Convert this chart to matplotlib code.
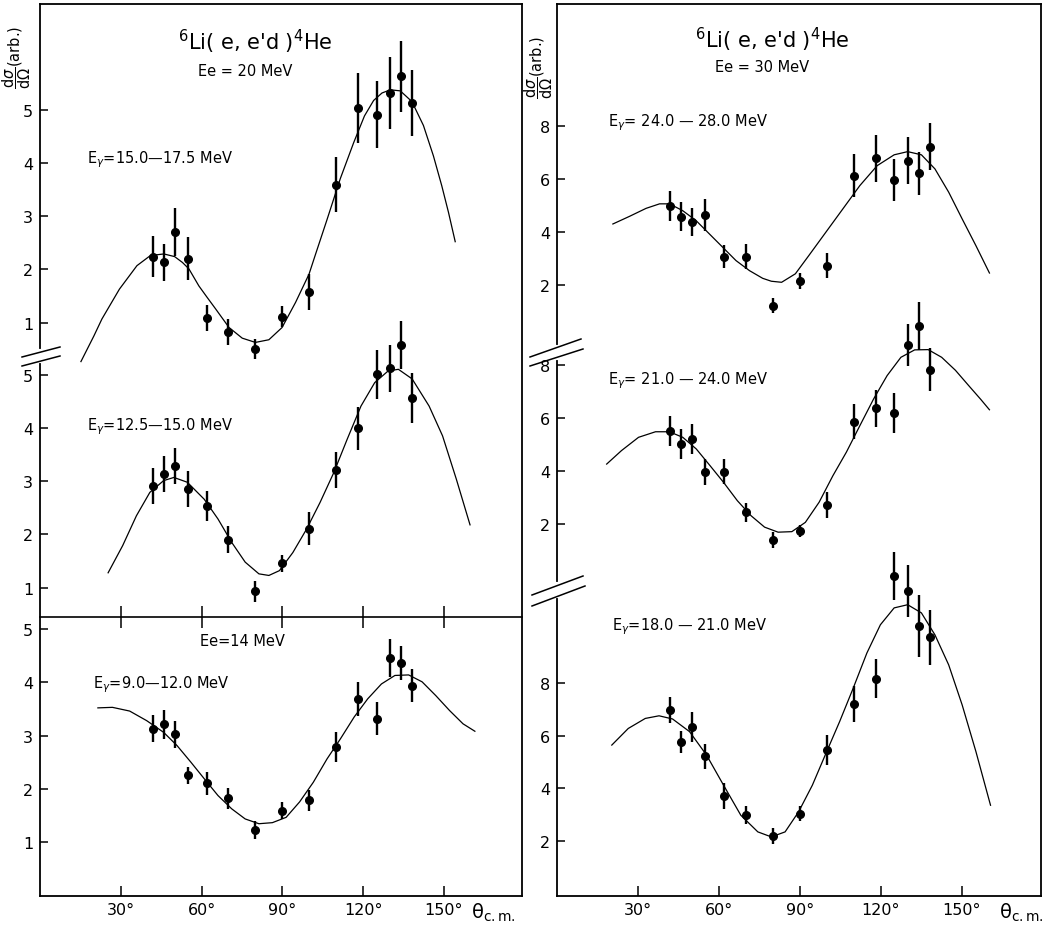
import matplotlib.pyplot as plt
from matplotlib.lines import Line2D

# scattering angles (deg, c.m.) shared by all data sets
angles = [42, 46, 50, 55, 62, 70, 80, 90, 100, 110, 118, 125, 130, 134, 138]

# Ee = 20 MeV, Eg = 15.0-17.5 MeV
y_15 = [2.24, 2.13, 2.70, 2.20, 1.09, 0.83, 0.51, 1.11, 1.58, 3.59, 5.03, 4.90, 5.31, 5.62, 5.13]
e_15 = [0.39, 0.34, 0.45, 0.40, 0.25, 0.24, 0.19, 0.20, 0.34, 0.52, 0.66, 0.63, 0.68, 0.66, 0.62]
fit_15_deg = [15.2, 20, 23, 29.5, 36, 41, 46, 50, 52.9, 55.3, 59, 62, 65.2, 70.2, 75.1, 80, 85,
              89.9, 94.9, 99.9, 102.3, 106.5, 111.5, 116.5, 120.5, 123.9, 127, 130.1, 133.8,
              138.1, 142.4, 146.1, 149.2, 151.7, 154.2]
fit_15_val = [0.27, 0.75, 1.07, 1.63, 2.07, 2.26, 2.29, 2.24, 2.13, 2.01, 1.69, 1.48, 1.26, 0.91,
              0.71, 0.63, 0.68, 0.91, 1.38, 1.91, 2.28, 2.92, 3.70, 4.38, 4.88, 5.17, 5.31, 5.37,
              5.35, 5.15, 4.70, 4.13, 3.57, 3.07, 2.52]

# Ee = 20 MeV, Eg = 12.5-15.0 MeV
y_12 = [2.91, 3.13, 3.28, 2.86, 2.53, 1.90, 0.93, 1.46, 2.11, 3.21, 3.99, 5.01, 5.12, 5.56, 4.56]
e_12 = [0.33, 0.34, 0.34, 0.34, 0.28, 0.25, 0.19, 0.16, 0.31, 0.33, 0.41, 0.46, 0.44, 0.45, 0.47]
fit_12_deg = [25.3, 30.7, 35.8, 40.8, 45.9, 49.7, 54.7, 61, 66.1, 71.2, 76.2, 81.3, 85, 88.9,
              93.9, 99, 104, 109.1, 114.1, 119.2, 124.3, 129.3, 133.1, 138.2, 144.5, 149.5,
              154.6, 159.7]
fit_12_val = [1.28, 1.79, 2.35, 2.79, 3.01, 3.07, 2.98, 2.66, 2.29, 1.85, 1.48, 1.26, 1.23, 1.32,
              1.66, 2.10, 2.60, 3.16, 3.79, 4.41, 4.85, 5.07, 5.10, 4.92, 4.41, 3.85, 3.04, 2.18]

# Ee = 14 MeV, Eg = 9.0-12.0 MeV
y_9 = [3.13, 3.21, 3.02, 2.25, 2.10, 1.82, 1.22, 1.58, 1.78, 2.79, 3.68, 3.32, 4.46, 4.36, 3.94]
e_9 = [0.26, 0.27, 0.26, 0.16, 0.22, 0.20, 0.17, 0.16, 0.20, 0.28, 0.32, 0.31, 0.35, 0.32, 0.31]
fit_9_deg = [21.5, 26.9, 33.3, 39.6, 45.9, 50.9, 56, 61.1, 66.1, 71.2, 76.2, 81.3, 86.3, 91.4,
             96.4, 101.5, 106.6, 111.6, 116.7, 121.7, 126.8, 131.8, 136.9, 141.9, 147, 152.1,
             157.1, 161.5]
fit_9_val = [3.52, 3.53, 3.46, 3.28, 3.06, 2.81, 2.50, 2.18, 1.87, 1.62, 1.43, 1.34, 1.36, 1.46,
             1.75, 2.12, 2.56, 2.94, 3.35, 3.69, 3.97, 4.13, 4.14, 4.01, 3.75, 3.47, 3.22, 3.08]

# Ee = 30 MeV, Eg = 24.0-28.0 MeV
y_24 = [4.99, 4.58, 4.37, 4.64, 3.07, 3.07, 1.22, 2.16, 2.73, 6.12, 6.78, 5.96, 6.69, 6.21, 7.22]
e_24 = [0.57, 0.55, 0.53, 0.62, 0.42, 0.46, 0.28, 0.30, 0.47, 0.82, 0.88, 0.79, 0.88, 0.82, 0.90]
fit_24_deg = [20.7, 26.9, 33, 38, 41.7, 46.6, 51.5, 56.5, 61.4, 66.3, 71.3, 76.2, 79.4, 83.2,
              88.3, 93.3, 99.6, 105.9, 112.2, 118.6, 124.9, 129.9, 135, 140, 145.1, 150.1, 155.2,
              160.2]
fit_24_val = [4.30, 4.59, 4.89, 5.06, 5.06, 4.80, 4.43, 3.92, 3.42, 2.92, 2.54, 2.25, 2.14, 2.10,
              2.42, 3.11, 3.99, 4.87, 5.75, 6.50, 6.91, 7.03, 6.91, 6.38, 5.50, 4.49, 3.48, 2.45]

# Ee = 30 MeV, Eg = 21.0-24.0 MeV
y_21 = [5.52, 5.02, 5.21, 3.97, 3.97, 2.44, 1.41, 1.72, 2.72, 5.86, 6.36, 6.19, 8.77, 9.48, 7.82]
e_21 = [0.57, 0.58, 0.56, 0.49, 0.47, 0.36, 0.30, 0.23, 0.49, 0.66, 0.69, 0.74, 0.79, 0.90, 0.82]
fit_21_deg = [18.4, 23.9, 30.2, 36.5, 41.6, 46.6, 51.6, 56.7, 61.7, 66.8, 71.9, 76.9, 81.9, 87,
              92, 97.1, 102.2, 107.2, 112.2, 117.3, 122.3, 127.4, 132.5, 137.5, 142.5, 147.6,
              152.7, 157, 160.2]
fit_21_val = [4.26, 4.77, 5.27, 5.48, 5.48, 5.27, 4.83, 4.20, 3.57, 2.88, 2.31, 1.88, 1.69, 1.71,
              2.06, 2.82, 3.82, 4.71, 5.71, 6.72, 7.60, 8.29, 8.57, 8.58, 8.29, 7.80, 7.20, 6.70,
              6.31]

# Ee = 30 MeV, Eg = 18.0-21.0 MeV
y_18 = [6.97, 5.77, 6.34, 5.22, 3.71, 3.00, 2.19, 3.04, 5.45, 7.19, 8.15, 12.04, 11.49, 10.16, 9.72]
e_18 = [0.49, 0.42, 0.57, 0.47, 0.49, 0.35, 0.29, 0.29, 0.56, 0.68, 0.74, 0.92, 0.99, 1.17, 1.03]
fit_18_deg = [20.3, 26.4, 32.7, 37.8, 42.8, 49.1, 55.4, 61.7, 68.1, 74.4, 79.4, 84.5, 89.5, 94.6,
              99.6, 104.7, 109.7, 114.8, 119.8, 124.9, 129.9, 135, 140, 145.1, 150.1, 155.2, 160.6]
fit_18_val = [5.64, 6.27, 6.65, 6.75, 6.63, 6.15, 5.26, 4.12, 2.98, 2.35, 2.16, 2.35, 3.11, 4.12,
              5.32, 6.53, 7.79, 9.13, 10.2, 10.84, 10.96, 10.65, 9.82, 8.68, 7.16, 5.39, 3.36]

x_ticks = [30, 60, 90, 120, 150]
x_labels = ['30°', '60°', '90°', '120°', '150°']

W, H = 1046, 928
fig = plt.figure(figsize=(W / 100, H / 100), dpi=100)


def box(x0, y0, x1, y1):
    # pixel box (top-left origin) -> figure fraction rect
    return [x0 / W, 1 - y1 / H, (x1 - x0) / W, (y1 - y0) / H]


def ftext(x, y, s, **kw):
    fig.text(x / W, 1 - y / H, s, **kw)


def frame(rect, xmax):
    ax = fig.add_axes(rect)
    ax.set_xlim(0, xmax)
    ax.set_ylim(0, 1)
    ax.set_yticks([])
    ax.set_xticks(x_ticks, x_labels, fontsize=11.5)
    ax.tick_params(axis='x', direction='in', length=7, width=1.1, pad=4)
    for s in ax.spines.values():
        s.set_linewidth(1.3)
    return ax


def panel(rect, xmax, ylim, yticks, deg, val, y, err):
    ax = fig.add_axes(rect)
    ax.patch.set_alpha(0)
    for s in ax.spines.values():
        s.set_visible(False)
    ax.set_xlim(0, xmax)
    ax.set_ylim(*ylim)
    ax.set_xticks([])
    ax.set_yticks(yticks, [str(t) for t in yticks], fontsize=11.5)
    ax.tick_params(axis='y', direction='in', length=6, width=1.1, pad=5)
    line, = ax.plot(deg, val, color='black', lw=0.9)
    line.set_clip_on(False)
    pts, caps, bars = ax.errorbar(angles, y, yerr=err, fmt='o', color='black', ms=5.5,
                                  elinewidth=1.7, capsize=0)
    pts.set_clip_on(False)
    for b in bars:
        b.set_clip_on(False)
    return ax


def slash(x0, y0, x1, y1, color='black', lw=1.1):
    fig.add_artist(Line2D([x0 / W, x1 / W], [1 - y0 / H, 1 - y1 / H], color=color, lw=lw))


# left column
LX0, LX1, LMAX = 40, 522, 179
frame(box(LX0, 5, LX1, 897), LMAX)
panel(box(LX0, 5, LX1, 357), LMAX, (0.375, 6.98), [1, 2, 3, 4, 5],
      fit_15_deg, fit_15_val, y_15, e_15)
panel(box(LX0, 357, LX1, 618), LMAX, (0.45, 5.35), [1, 2, 3, 4, 5],
      fit_12_deg, fit_12_val, y_12, e_12)
ax_b = panel(box(LX0, 618, LX1, 897), LMAX, (-0.02, 5.23), [1, 2, 3, 4, 5],
             fit_9_deg, fit_9_val, y_9, e_9)
ax_b.spines['top'].set_visible(True)
ax_b.spines['top'].set_linewidth(1.2)
ax_b.set_xticks(x_ticks)
ax_b.tick_params(axis='x', top=True, bottom=False, labeltop=False, labelbottom=False,
                 direction='inout', length=16, width=1.1)

# right column
RX0, RX1, RMAX = 557, 1041, 179.3
frame(box(RX0, 5, RX1, 897), RMAX)
panel(box(RX0, 5, RX1, 353), RMAX, (-0.53, 12.6), [2, 4, 6, 8],
      fit_24_deg, fit_24_val, y_24, e_24)
panel(box(RX0, 353, RX1, 592), RMAX, (-0.53, 8.49), [2, 4, 6, 8],
      fit_21_deg, fit_21_val, y_21, e_21)
panel(box(RX0, 592, RX1, 897), RMAX, (-0.08, 11.48), [2, 4, 6, 8],
      fit_18_deg, fit_18_val, y_18, e_18)

# axis break marks
slash(LX0, 352, LX0, 362, color='white', lw=3)
slash(22, 358, 60, 348)
slash(22, 367, 60, 357)
slash(RX0, 348, RX0, 359, color='white', lw=3)
slash(530, 358, 581, 340)
slash(530, 367, 583, 350)
slash(RX0, 585, RX0, 597, color='white', lw=3)
slash(532, 596, 583, 577)
slash(532, 607, 585, 587)

# titles and labels
title = "$^{6}$Li( e, e'd )$^{4}$He"
ftext(255, 42, title, fontsize=15, ha='center', va='center')
ftext(772, 40, title, fontsize=15, ha='center', va='center')
ftext(245, 72, 'Ee = 20 MeV', fontsize=10.5, ha='center', va='center')
ftext(762, 67, 'Ee = 30 MeV', fontsize=10.5, ha='center', va='center')
ftext(242, 642, 'Ee=14 MeV', fontsize=10.5, ha='center', va='center')

ftext(87, 160, r'E$_{\gamma}$=15.0—17.5 MeV', fontsize=10.5, va='center')
ftext(87, 427, r'E$_{\gamma}$=12.5—15.0 MeV', fontsize=10.5, va='center')
ftext(93, 685, r'E$_{\gamma}$=9.0—12.0 MeV', fontsize=10.5, va='center')
ftext(608, 123, r'E$_{\gamma}$= 24.0 — 28.0 MeV', fontsize=10.5, va='center')
ftext(608, 381, r'E$_{\gamma}$= 21.0 — 24.0 MeV', fontsize=10.5, va='center')
ftext(612, 627, r'E$_{\gamma}$=18.0 — 21.0 MeV', fontsize=10.5, va='center')

ylab = r'$\dfrac{\mathrm{d}\sigma}{\mathrm{d}\Omega}$(arb.)'
ftext(17, 57, ylab, fontsize=10.5, rotation=90, ha='center', va='center')
ftext(539, 67, ylab, fontsize=10.5, rotation=90, ha='center', va='center')

theta = r'θ$_{\rm c.m.}$'
ftext(471, 913, theta, fontsize=14, va='center')
ftext(999, 913, theta, fontsize=14, va='center')

fig.savefig('out.png', dpi=100)
